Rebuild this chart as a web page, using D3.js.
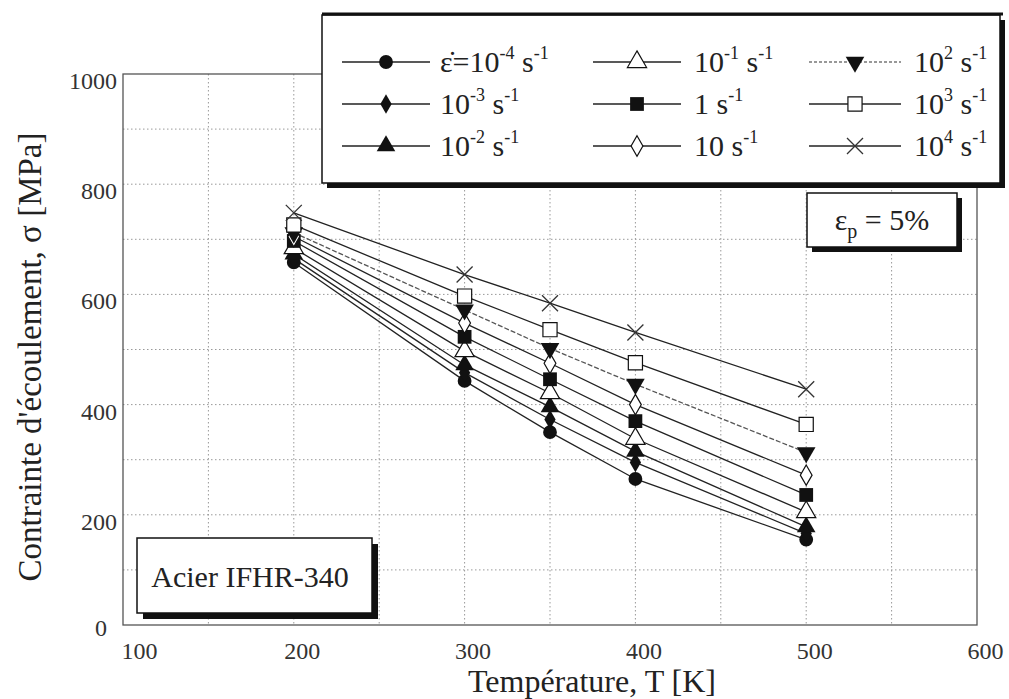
<!DOCTYPE html>
<html><head><meta charset="utf-8">
<script src="https://cdn.jsdelivr.net/npm/d3@7"></script>
<style>
body{margin:0;background:#fff;}
text{font-family:"Liberation Serif","DejaVu Serif",serif;fill:#222;}
</style></head>
<body><svg id="c" width="1009" height="699"></svg>
<script>
// ---- data ----
const temps = [200, 300, 350, 400, 500];
const xTicks = [100, 200, 300, 400, 500, 600];
const yTicks = [0, 200, 400, 600, 800, 1000];
const rateExp = ["-4", "-3", "-2", "-1", "0", "1", "2", "3", "4"];
const s_m4 = [658, 443, 350, 265, 155];
const s_m3 = [665, 458, 373, 295, 166];
const s_m2 = [673, 472, 396, 315, 178];
const s_m1 = [684, 497, 421, 338, 205];
const s_0  = [697, 523, 446, 370, 236];
const s_1  = [705, 548, 475, 400, 272];
const s_2  = [712, 572, 502, 437, 313];
const s_3  = [726, 597, 536, 476, 364];
const s_4  = [748, 636, 584, 531, 428];
const seriesValues = [s_m4, s_m3, s_m2, s_m1, s_0, s_1, s_2, s_3, s_4];
const markers = ["circle","diamond","triangle","triangleOpen","square","diamondOpen","triangleDown","squareOpen","x"];

const svg = d3.select("#c");
const L = 123, R = 977, T = 74, B = 625;
const x = d3.scaleLinear().domain([100, 600]).range([L, R]);
const y = d3.scaleLinear().domain([0, 1000]).range([B, T]);

// grid
const g = svg.append("g");
g.selectAll("line.vx").data(d3.range(150, 600, 50)).join("line")
  .attr("x1", d => x(d)).attr("x2", d => x(d)).attr("y1", T).attr("y2", B)
  .attr("stroke", "#999").attr("stroke-width", 1).attr("stroke-dasharray", "1.5,2.5");
g.selectAll("line.hy").data(d3.range(100, 1000, 100)).join("line")
  .attr("y1", d => y(d)).attr("y2", d => y(d)).attr("x1", L).attr("x2", R)
  .attr("stroke", "#999").attr("stroke-width", 1).attr("stroke-dasharray", "1.5,2.5");
// frame
svg.append("rect").attr("x", L).attr("y", T).attr("width", R - L).attr("height", B - T)
  .attr("fill", "none").attr("stroke", "#555").attr("stroke-width", 1.3);

// axes (labels only)
const ax = svg.append("g").attr("transform", `translate(0,${B})`)
  .call(d3.axisBottom(x).tickValues(xTicks).tickSize(0).tickPadding(17).tickFormat(d3.format("d")));
ax.select(".domain").remove();
ax.selectAll("text").style("font-size", "24px").style("font-family", "Liberation Serif").style("fill", "#333")
  .attr("dx", d => d === 100 ? 16 : 8);
const ay = svg.append("g").attr("transform", `translate(${L},0)`)
  .call(d3.axisLeft(y).tickValues(yTicks).tickSize(0).tickPadding(6).tickFormat(d3.format("d")));
ay.select(".domain").remove();
ay.selectAll("text").style("font-size", "24px").style("font-family", "Liberation Serif").style("fill", "#333")
  .attr("dy", d => d === 0 ? "0.45em" : "0.6em")
  .attr("dx", d => d === 0 ? -10 : 0);

svg.append("text").attr("x", 592).attr("y", 692).attr("text-anchor", "middle")
  .attr("font-size", 32).text("Température, T [K]");
svg.append("text").attr("transform", "translate(41,357) rotate(-90)").attr("text-anchor", "middle")
  .attr("font-size", 33).text("Contrainte d'écoulement, σ [MPa]");

// markers
function drawMarker(sel, type) {
  const sym = (t, s) => d3.symbol().type(t).size(s)();
  switch (type) {
    case "circle": sel.append("path").attr("d", sym(d3.symbolCircle, 150)).attr("fill", "#111"); break;
    case "diamond": sel.append("path").attr("d", sym(d3.symbolDiamond, 110)).attr("fill", "#111"); break;
    case "triangle": sel.append("path").attr("d", sym(d3.symbolTriangle, 150)).attr("fill", "#111"); break;
    case "triangleOpen": sel.append("path").attr("d", sym(d3.symbolTriangle, 160)).attr("fill", "#fff").attr("stroke", "#111").attr("stroke-width", 1.2); break;
    case "square": sel.append("path").attr("d", sym(d3.symbolSquare, 190)).attr("fill", "#111"); break;
    case "diamondOpen": sel.append("path").attr("d", sym(d3.symbolDiamond, 120)).attr("fill", "#fff").attr("stroke", "#111").attr("stroke-width", 1.2); break;
    case "triangleDown": sel.append("path").attr("d", sym(d3.symbolTriangle, 150)).attr("transform", "rotate(180)").attr("fill", "#111"); break;
    case "squareOpen": sel.append("path").attr("d", sym(d3.symbolSquare, 200)).attr("fill", "#fff").attr("stroke", "#111").attr("stroke-width", 1.2); break;
    case "x": sel.append("path").attr("d", "M-8,-8L8,8M-8,8L8,-8").attr("fill", "none").attr("stroke", "#333").attr("stroke-width", 1.3); break;
  }
}

const line = d3.line().x((d, i) => x(temps[i])).y(d => y(d));
seriesValues.forEach((vals, k) => {
  svg.append("path").attr("d", line(vals)).attr("fill", "none")
    .attr("stroke", k === 6 ? "#555" : "#222").attr("stroke-width", 1.3)
    .attr("stroke-dasharray", k === 6 ? "5,2" : null);
});
seriesValues.forEach((vals, k) => {
  vals.forEach((v, i) => {
    const m = svg.append("g").attr("transform", `translate(${x(temps[i])},${y(v)})`);
    drawMarker(m, markers[k]);
  });
});

// shadowed box helper
function box(x0, y0, w, h, off) {
  svg.append("rect").attr("x", x0 + off).attr("y", y0 + off).attr("width", w).attr("height", h).attr("fill", "#111");
  svg.append("rect").attr("x", x0).attr("y", y0).attr("width", w).attr("height", h)
    .attr("fill", "#fff").attr("stroke", "#111").attr("stroke-width", 1.5);
}

// legend
box(322, 15, 678, 168, 5);
svg.append("line").attr("x1", 322).attr("x2", 1003).attr("y1", 14).attr("y2", 14).attr("stroke", "#111").attr("stroke-width", 3);
const colX = [[342, 430, 386, 440], [593, 681, 637, 694], [809, 901, 855, 914]];
const rowY = [62, 104, 146];
rateExp.forEach((e, k) => {
  const c = Math.floor(k / 3), r = k % 3;
  const [l1, l2, mx, tx] = colX[c];
  const yy = rowY[r];
  svg.append("line").attr("x1", l1).attr("x2", l2).attr("y1", yy).attr("y2", yy)
    .attr("stroke", k === 6 ? "#777" : "#222").attr("stroke-width", 1.3)
    .attr("stroke-dasharray", k === 6 ? "3,2" : null);
  const m = svg.append("g").attr("transform", `translate(${mx},${yy})`);
  drawMarker(m, markers[k]);
  const t = svg.append("text").attr("x", tx).attr("y", yy + 10).attr("font-size", 30);
  if (k === 0) t.append("tspan").text("ε\u0307=");
  if (e === "0") {
    t.append("tspan").text("1 s");
  } else if (e === "1") {
    t.append("tspan").text("10 s");
  } else {
    t.append("tspan").text("10");
    t.append("tspan").attr("font-size", 18).attr("dy", -13).text(e);
    t.append("tspan").attr("dy", 13).text(" s");
  }
  t.append("tspan").attr("font-size", 18).attr("dy", -13).text("-1");
});

// epsilon_p box
box(807, 193, 150, 54, 5);
const ep = svg.append("text").attr("x", 882).attr("y", 230).attr("text-anchor", "middle").attr("font-size", 30);
ep.append("tspan").text("ε");
ep.append("tspan").attr("font-size", 20).attr("dy", 8).text("p");
ep.append("tspan").attr("dy", -8).text(" = 5%");

// material box
box(137, 538, 235, 75, 6);
svg.append("text").attr("x", 250).attr("y", 587).attr("text-anchor", "middle").attr("font-size", 30).text("Acier IFHR-340");
</script></body></html>
